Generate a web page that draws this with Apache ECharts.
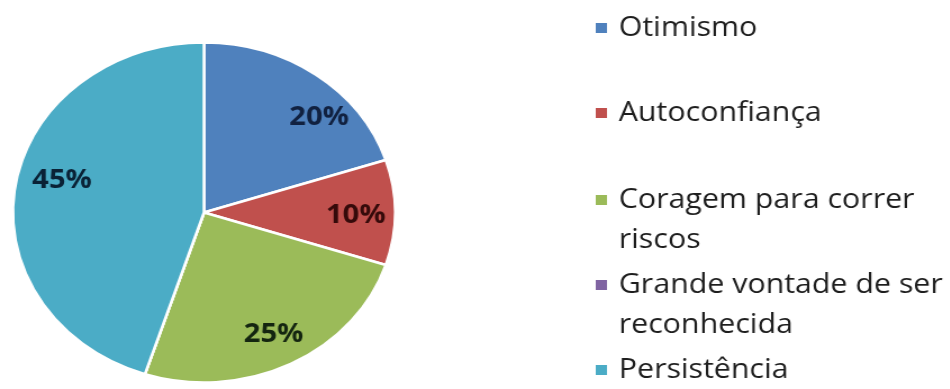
<!DOCTYPE html>
<html>
<head>
<meta charset="utf-8">
<script src="https://cdn.jsdelivr.net/npm/echarts@6/dist/echarts.min.js"></script>
<style>
  html, body { margin: 0; padding: 0; background: #fff; overflow: hidden; }
  #wrap { width: 950px; height: 389px; overflow: hidden; }
  /* the drawing is widened horizontally by a constant factor */
  #chart { width: 845px; height: 389px; transform: scaleX(1.124); transform-origin: 0 0; }
</style>
</head>
<body>
<div id="wrap"><div id="chart"></div></div>
<script>
// Categories, shares (percent) and the wrapped legend text
const categories = ['Otimismo', 'Autoconfiança', 'Coragem para correr riscos', 'Grande vontade de ser reconhecida', 'Persistência'];
const shares = [20, 10, 25, 0, 45];
const legendText = ['Otimismo', 'Autoconfiança', 'Coragem para correr\nriscos', 'Grande vontade de ser\nreconhecida', 'Persistência'];

// Styling
const colors = ['#4F81BD', '#C0504D', '#9BBB59', '#8064A2', '#4BACC6'];
const labelColors = ['#112140', '#350a0a', '#142510', '#1c1230', '#0a2236'];
// small nudges of the percentage labels away from the slice mid-angle
const labelNudges = [[23, 14], [0, 3.5], [0.6, 2], [0, 0], [7, -11]];

const chart = echarts.init(document.getElementById('chart'));

const pieData = categories.map((name, i) => ({
  name: name,
  value: shares[i],
  itemStyle: { color: colors[i] }
}));

const labelData = categories.map((name, i) => ({
  name: name,
  value: shares[i],
  label: { color: labelColors[i], offset: labelNudges[i] }
}));

// one legend block per entry so that each can sit at its own height;
// wrapped entries get a blank leading line so the marker lines up with the first line
const legendIconCenters = [28, 113, 200, 285, 370];
const legends = categories.map((name, i) => {
  const rows = legendText[i].split('\n').map(s => '\u2009' + s);
  const shown = rows.length > 1 ? '\u00a0\n' + rows.join('\n') : rows[0];
  const total = rows.length > 1 ? rows.length + 1 : 1;
  return {
    data: [name],
    orient: 'vertical',
    left: 528,
    top: legendIconCenters[i] - total * 20,
    padding: 0,
    icon: 'rect',
    itemWidth: 12,
    itemHeight: 12,
    selectedMode: false,
    formatter: () => shown,
    textStyle: {
      fontFamily: 'Open Sans',
      fontSize: 27,
      lineHeight: 40,
      color: '#1e1e1e'
    }
  };
});

chart.setOption({
  animation: false,
  backgroundColor: '#ffffff',
  legend: legends,
  series: [
    {
      type: 'pie',
      center: [181.5, 212.5],
      radius: [0, 170],
      startAngle: 90,
      clockwise: true,
      silent: true,
      label: { show: false },
      labelLine: { show: false },
      itemStyle: { borderColor: '#ffffff', borderWidth: 2.5 },
      data: pieData
    },
    {
      // percentage labels, drawn on a transparent ring so they sit near the rim
      type: 'pie',
      center: [181.5, 212.5],
      radius: [94, 170],
      startAngle: 90,
      clockwise: true,
      silent: true,
      itemStyle: { color: 'rgba(0,0,0,0)', borderWidth: 0 },
      labelLine: { show: false },
      label: {
        show: true,
        position: 'inside',
        fontFamily: 'Open Sans',
        fontWeight: 'bold',
        fontSize: 26,
        formatter: p => p.value > 0 ? p.value + '%' : ''
      },
      data: labelData
    }
  ]
});
</script>
</body>
</html>
